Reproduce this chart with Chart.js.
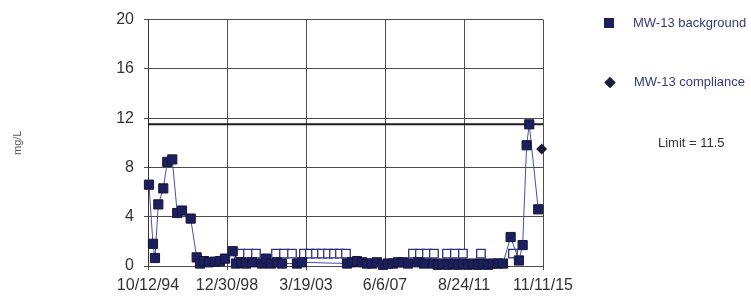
<!DOCTYPE html>
<html>
<head>
<meta charset="utf-8">
<script src="https://cdn.jsdelivr.net/npm/chart.js@4.4.1/dist/chart.umd.min.js"></script>
<style>
  html, body { margin: 0; padding: 0; background: #fff; }
</style>
</head>
<body>
<canvas id="chart" width="751" height="297"></canvas>
<script>
// MW-13 background results (mg/L)
const bgDates = ['1994-10-31','1995-01-17','1995-02-25','1995-05-01','1995-08-06','1995-10-23','1996-01-28','1996-05-04','1996-08-05','1997-01-21',
  '1997-05-18','1997-07-21','1997-10-07','1998-01-13','1998-05-10','1998-08-15','1998-11-21','1999-04-20','1999-06-23','1999-09-29',
  '2000-01-04','2000-04-30','2000-11-11','2001-01-28','2001-05-05','2001-08-30','2001-12-06','2002-09-24','2002-12-30',
  '2005-05-26','2005-08-31','2005-12-06','2006-03-14','2006-06-19','2006-09-25','2006-12-31','2007-04-27','2007-08-03','2007-11-08','2008-02-14','2008-05-21','2008-08-26',
  '2009-03-09','2009-07-04','2009-12-27','2010-04-03','2010-07-10','2010-10-15','2011-01-20','2011-04-28','2011-08-03','2011-11-09','2012-02-14','2012-05-22','2012-08-27','2012-12-03','2013-03-10','2013-06-16','2013-09-21',
  '2014-02-18','2014-07-30','2014-10-10','2014-12-27','2015-02-16','2015-08-10'];
const bgValues = [6.6, 1.8, 0.65, 5.0, 6.3, 8.45, 8.65, 4.3, 4.5, 3.85,
  0.7, 0.2, 0.4, 0.3, 0.35, 0.4, 0.6, 1.2, 0.2, 0.3,
  0.2, 0.3, 0.2, 0.6, 0.2, 0.3, 0.2, 0.2, 0.3,
  0.2, 0.3, 0.4, 0.3, 0.2, 0.2, 0.3, 0.1, 0.2, 0.2, 0.3, 0.3, 0.2,
  0.3, 0.2, 0.2, 0.1, 0.2, 0.1, 0.2, 0.1, 0.2, 0.1, 0.2, 0.1, 0.2, 0.1, 0.2, 0.2, 0.2,
  2.35, 0.45, 1.7, 9.8, 11.5, 4.6];

// non-detects (open squares, plotted at the reporting limit)
const ndDates = ['1999-09-09','2000-02-12','2000-07-17','2001-08-11','2002-01-14','2002-06-19','2003-02-07','2003-06-04','2003-09-29','2004-01-24',
  '2004-05-20','2004-09-14','2005-01-09','2005-05-06','2008-12-02','2009-04-17','2009-09-01','2010-01-15','2010-09-26','2011-02-28',
  '2011-08-03','2012-07-19','2014-04-04'];
const ndValues = [1, 1, 1, 1, 1, 1, 1, 1, 1, 1, 1, 1, 1, 1, 1, 1, 1, 1, 1, 1, 1, 1, 1];

// MW-13 compliance
const compDates = ['2015-10-15'];
const compValues = [9.5];

const limitValue = 11.5;

const xTickDates = ['1994-10-12', '1998-12-30', '2003-03-19', '2007-06-06', '2011-08-24', '2015-11-11'];
const yTicks = [0, 4, 8, 12, 16, 20];

const navy = '#1d1f5c';
const lineBlue = '#4650aa';
const gridCol = '#4d4d4d';
const font = 'Arial, "Liberation Sans", sans-serif';

// days since the first axis date
const dayOf = s => Date.UTC(+s.slice(0, 4), +s.slice(5, 7) - 1, +s.slice(8, 10)) / 864e5;
const day0 = dayOf(xTickDates[0]);
const toX = s => dayOf(s) - day0;
const pts = (dates, vals) => dates.map((d, i) => ({ x: toX(d), y: vals[i] }));

function fmtDate(v) {
  const d = new Date((day0 + v) * 864e5);
  return (d.getUTCMonth() + 1) + '/' + d.getUTCDate() + '/' + String(d.getUTCFullYear()).slice(2);
}

// legend on the right, drawn by hand like the original
const sideLegend = {
  id: 'sideLegend',
  afterDraw(chart) {
    const ctx = chart.ctx;
    const x0 = chart.chartArea.right;
    ctx.save();
    ctx.font = '13px ' + font;
    ctx.textBaseline = 'middle';
    ctx.textAlign = 'left';

    // background square
    ctx.fillStyle = navy;
    ctx.fillRect(x0 + 61, 18, 10, 10);
    ctx.fillStyle = '#363a78';
    ctx.fillText('MW-13 background', x0 + 90, 23);

    // compliance diamond
    ctx.fillStyle = '#1a1a3a';
    Chart.helpers.drawPoint(ctx, { pointStyle: 'rectRot', radius: 5.5, borderWidth: 0 }, x0 + 67, 82.5);
    ctx.fill();
    ctx.fillStyle = '#363a78';
    ctx.fillText('MW-13 compliance', x0 + 91, 82.5);

    ctx.fillStyle = '#333';
    ctx.fillText('Limit = ' + limitValue, x0 + 115, 143);
    ctx.restore();
  }
};

new Chart(document.getElementById('chart').getContext('2d'), {
  type: 'line',
  data: {
    datasets: [
      {
        label: 'MW-13 background',
        data: pts(bgDates, bgValues),
        borderColor: lineBlue,
        borderWidth: 1,
        pointStyle: 'rect',
        pointRadius: 6.5,
        pointBackgroundColor: navy,
        pointBorderColor: '#15173f',
        pointBorderWidth: 1,
        tension: 0,
        clip: false
      },
      {
        label: 'non-detect',
        data: pts(ndDates, ndValues),
        showLine: false,
        pointStyle: 'rect',
        pointRadius: 6,
        pointBackgroundColor: '#fff',
        pointBorderColor: '#2b3080',
        pointBorderWidth: 1.3,
        clip: false
      },
      {
        label: 'MW-13 compliance',
        data: pts(compDates, compValues),
        showLine: false,
        pointStyle: 'rectRot',
        pointRadius: 5.5,
        pointBackgroundColor: '#1a1a3a',
        pointBorderColor: '#1a1a3a',
        pointBorderWidth: 0,
        clip: false
      },
      {
        label: 'Limit',
        data: [{ x: 0, y: limitValue }, { x: toX(xTickDates[xTickDates.length - 1]), y: limitValue }],
        borderColor: '#1c1c1c',
        borderWidth: 2,
        pointRadius: 0
      }
    ]
  },
  options: {
    responsive: false,
    animation: false,
    layout: { padding: { left: 0, top: 13, right: 208, bottom: 0 } },
    plugins: {
      legend: { display: false },
      tooltip: { enabled: false }
    },
    scales: {
      x: {
        type: 'linear',
        min: 0,
        max: toX(xTickDates[xTickDates.length - 1]),
        afterBuildTicks: s => { s.ticks = xTickDates.map(d => ({ value: toX(d) })); },
        afterFit: s => { s.height = 31; },
        ticks: {
          callback: v => fmtDate(v),
          color: '#333',
          font: { family: font, size: 16 },
          padding: 6,
          maxRotation: 0,
          autoSkip: false
        },
        grid: { color: gridCol, lineWidth: 1, tickLength: 4 },
        border: { color: gridCol, width: 1 }
      },
      y: {
        min: 0,
        max: 20,
        afterBuildTicks: s => { s.ticks = yTicks.map(v => ({ value: v })); },
        afterFit: s => { s.width = 148; },
        ticks: {
          color: '#333',
          font: { family: font, size: 16 },
          padding: 10
        },
        grid: { color: gridCol, lineWidth: 1, tickLength: 4 },
        border: { color: '#333', width: 1 },
        title: {
          display: true,
          text: 'mg/L',
          color: '#555',
          font: { family: font, size: 11 },
          padding: { top: 11, bottom: 0 }
        }
      }
    }
  },
  plugins: [sideLegend]
});
</script>
</body>
</html>
